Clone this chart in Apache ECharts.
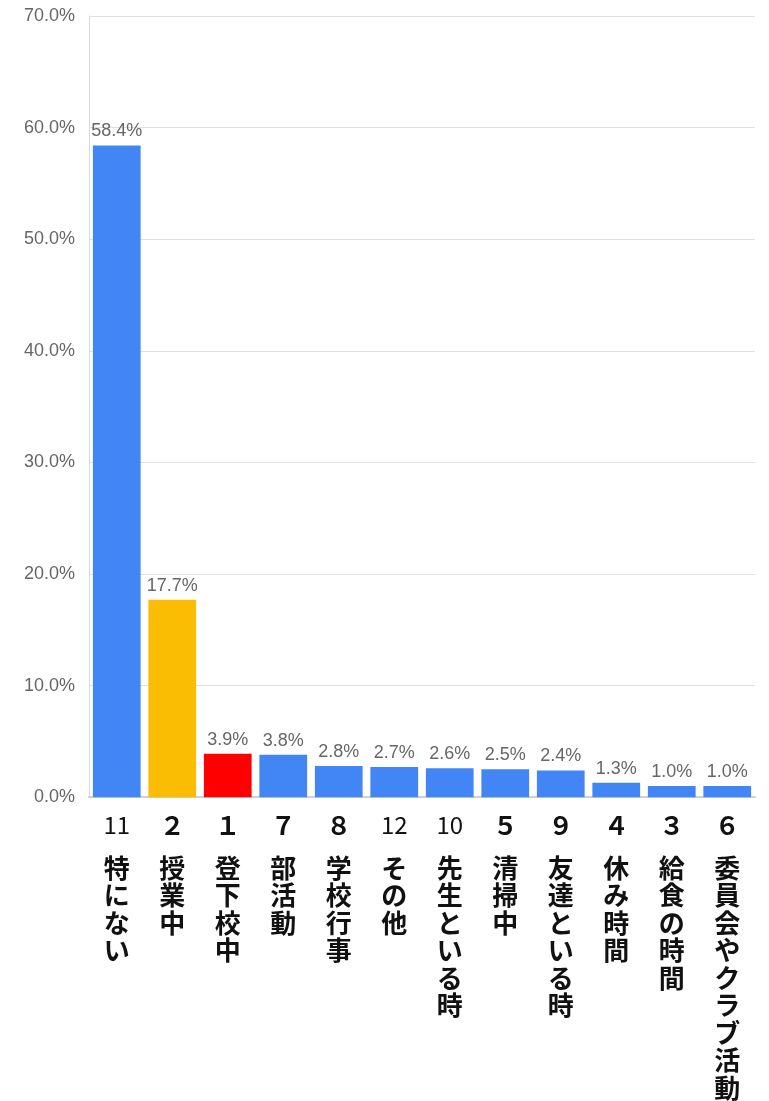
<!DOCTYPE html>
<html>
<head>
<meta charset="utf-8">
<script src="https://cdn.jsdelivr.net/npm/echarts@6/dist/echarts.min.js"></script>
<style>
  html, body { margin: 0; padding: 0; background: #fff; }
  #chart { width: 769px; height: 1101px; }
</style>
</head>
<body>
<div id="chart"></div>
<script>
// answer numbers and labels, in display order
const codes = ['11', '２', '１', '７', '８', '12', '10', '５', '９', '４', '３', '６'];
const names = ['特にない', '授業中', '登下校中', '部活動', '学校行事', 'その他',
  '先生といる時', '清掃中', '友達といる時', '休み時間', '給食の時間', '委員会やクラブ活動'];
const values = [58.4, 17.7, 3.9, 3.8, 2.8, 2.7, 2.6, 2.5, 2.4, 1.3, 1.0, 1.0];
const barColors = ['#4285f4', '#fbbc04', '#ff0000', '#4285f4', '#4285f4', '#4285f4',
  '#4285f4', '#4285f4', '#4285f4', '#4285f4', '#4285f4', '#4285f4'];

const sans = "'Liberation Sans', Arial, sans-serif";
const jp = "'Noto Sans CJK JP', sans-serif";

const chart = echarts.init(document.getElementById('chart'), null, { renderer: 'canvas' });

chart.setOption({
  animation: false,
  grid: { left: 89, right: 14, top: 16, bottom: 302 },
  xAxis: {
    type: 'category',
    data: codes.map((c, i) => c + '|' + names[i]),
    axisTick: { show: false },
    axisLine: { lineStyle: { color: '#d0d0d0', width: 2 } },
    axisLabel: {
      interval: 0,
      margin: 13,
      formatter: function (v) {
        const parts = v.split('|');
        const half = /^[0-9]+$/.test(parts[0]);
        const head = half ? '{n|' + parts[0] + '}' : '{nb|' + parts[0] + '}';
        const chars = Array.from(parts[1]).map(ch => '{t|' + ch + '}').join('\n');
        return head + '\n{s| }\n' + chars;
      },
      rich: {
        n: { fontFamily: jp, fontSize: 24, fontWeight: 'normal', color: '#111', lineHeight: 30 },
        nb: { fontFamily: jp, fontSize: 25, fontWeight: 'bold', color: '#111', lineHeight: 30 },
        s: { fontSize: 10, lineHeight: 14 },
        t: { fontFamily: jp, fontSize: 26, fontWeight: 'bold', color: '#111', lineHeight: 27.5 }
      }
    }
  },
  yAxis: {
    type: 'value',
    min: 0,
    max: 70,
    interval: 10,
    axisLine: { show: true, lineStyle: { color: '#d8d8d8' } },
    axisTick: { show: false },
    splitLine: { lineStyle: { color: '#e0e0e0' } },
    axisLabel: {
      margin: 14,
      fontFamily: sans,
      fontSize: 18,
      color: '#666',
      formatter: v => v.toFixed(1) + '%'
    }
  },
  series: [{
    type: 'bar',
    barWidth: '86%',
    data: values.map((v, i) => ({ value: v, itemStyle: { color: barColors[i] } })),
    label: {
      show: true,
      position: 'top',
      distance: 5,
      fontFamily: sans,
      fontSize: 18,
      color: '#666',
      formatter: p => p.value.toFixed(1) + '%'
    }
  }]
});
</script>
</body>
</html>
